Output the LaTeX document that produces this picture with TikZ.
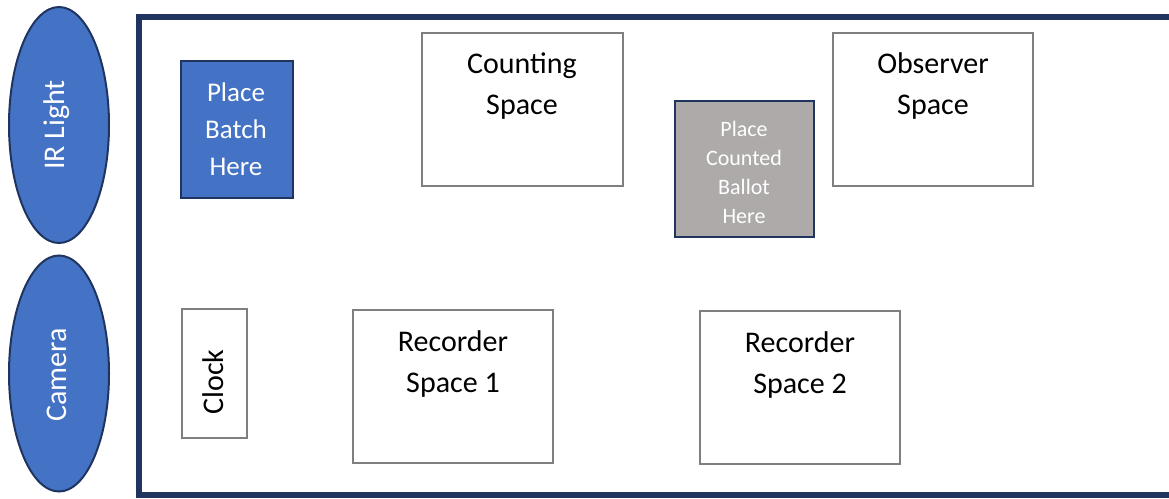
\documentclass[tikz,border=0pt]{standalone}
\usepackage{fontspec}
\setmainfont{Carlito}
\usetikzlibrary{shapes.geometric}
\definecolor{navy}{HTML}{1F3560}
\definecolor{pblue}{HTML}{4472C4}
\definecolor{pgray}{HTML}{AEAAAA}
\definecolor{bgray}{HTML}{7F7F7F}
\tikzset{
  wbox/.style={draw=bgray, line width=1.3pt, fill=white, inner sep=0pt},
  txt/.style={inner sep=0pt, align=center, font=\fontsize{30}{41}\selectfont},
  cam/.style={ellipse, draw=navy, line width=2pt, fill=pblue, minimum width=100pt, minimum height=236pt, inner sep=0pt},
}
\begin{document}
\begin{tikzpicture}[x=1pt,y=-1pt]
\useasboundingbox (0,0) rectangle (1169,498);
\fill[white] (0,0) rectangle (1169,498);
% frame
\draw[navy, line width=6pt] (1180,17) -- (139,17) -- (139,495) -- (1180,495);
% ellipses
\node[cam] (ir) at (59,125) {};
\node[txt, text=white, rotate=90] (irt) at (57,125) {IR Light};
\node[cam] (camera) at (59,373.5) {};
\node[txt, text=white, rotate=90] (camt) at (57,375) {Camera};
% blue box
\node[draw=navy, line width=2pt, fill=pblue, minimum width=112pt, minimum height=137pt, inner sep=0pt] (batch) at (237,129.5) {};
\node[txt, text=white, font=\fontsize{27}{37}\selectfont] (batcht) at (236,129) {Place\\Batch\\Here};
% gray box
\node[draw=navy, line width=2pt, fill=pgray, minimum width=139pt, minimum height=136pt, inner sep=0pt] (ballot) at (744.5,169) {};
\node[txt, text=white, font=\fontsize{22}{29}\selectfont] (ballott) at (744,172) {Place\\Counted\\Ballot\\Here};
% white boxes
\node[wbox, minimum width=201pt, minimum height=153pt] (counting) at (522.5,109.5) {};
\node[txt] (countingt) at (522,86.5) {Counting\\Space};
\node[wbox, minimum width=200pt, minimum height=153pt] (observer) at (933,109.5) {};
\node[txt] (observert) at (933,86) {Observer\\Space};
\node[wbox, minimum width=200pt, minimum height=153pt] (rec1) at (453,386.5) {};
\node[txt] (rec1t) at (453,363.5) {Recorder\\Space 1};
\node[wbox, minimum width=200pt, minimum height=153pt] (rec2) at (800,387.5) {};
\node[txt] (rec2t) at (800,364.5) {Recorder\\Space 2};
\node[wbox, minimum width=65pt, minimum height=129pt] (clock) at (214.5,373.5) {};
\node[txt, rotate=90] (clockt) at (213,382) {Clock};
\end{tikzpicture}
\end{document}
